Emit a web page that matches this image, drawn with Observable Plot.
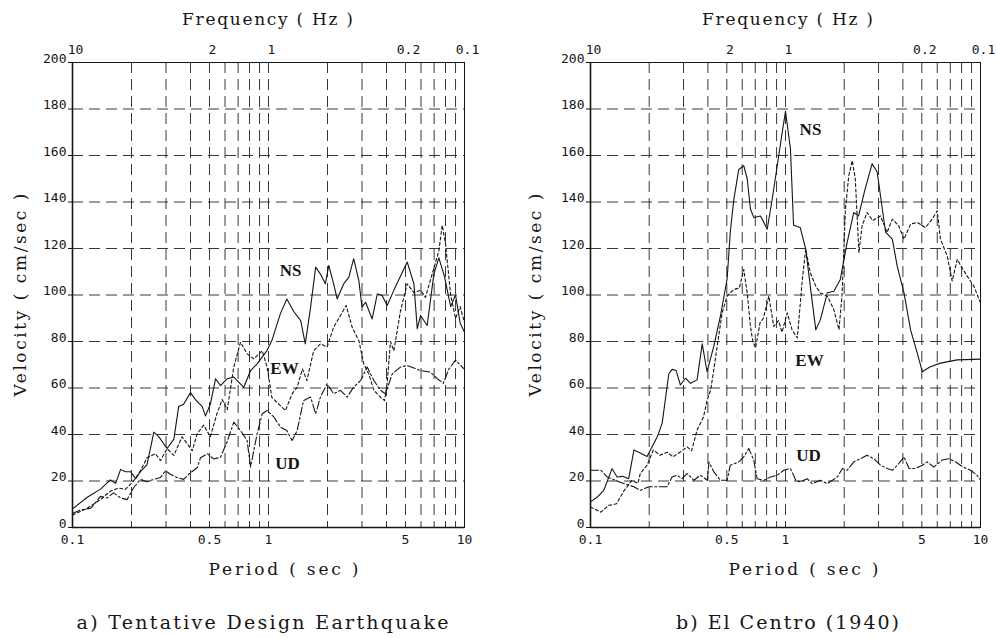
<!DOCTYPE html>
<html>
<head>
<meta charset="utf-8">
<script src="https://cdn.jsdelivr.net/npm/d3@7"></script>
<script src="https://cdn.jsdelivr.net/npm/@observablehq/plot@0.6"></script>
<style>
  body { margin: 0; background: #fff; }
  #wrap { display: flex; width: 996px; height: 638px; overflow: hidden; }
  #wrap > div { width: 498px; }
</style>
</head>
<body>
<div id="wrap"><div id="left"></div><div id="right"></div></div>
<script>
// ---- axis ticks and labels ----
const periodTicks = [0.1, 0.5, 1, 5, 10];
const periodTickLabels = ["0.1", "0.5", "1", "5", "10"];
const freqTickLabels = ["10", "2", "1", "0.2", "0.1"];
const velocityTicks = [0, 20, 40, 60, 80, 100, 120, 140, 160, 180, 200];
const gridPeriods = [0.2, 0.3, 0.4, 0.5, 0.6, 0.7, 0.8, 0.9, 1, 2, 3, 4, 5, 6, 7, 8, 9];
const gridVelocities = [20, 40, 60, 80, 100, 120, 140, 160, 180];
const seriesNames = ["NS", "EW", "UD"];

// ---- a) Tentative Design Earthquake : [period sec, velocity cm/sec] ----
const designNS = [[0.1,8],[0.119,13],[0.139,16.5],[0.156,20.5],[0.166,19],[0.176,25],[0.186,24],[0.198,24],[0.21,21],[0.222,24],[0.24,27],[0.26,41],[0.276,39],[0.292,36],[0.304,34],[0.329,38],[0.348,52],[0.369,53],[0.4,58],[0.424,55],[0.459,52],[0.477,48],[0.505,53],[0.537,64],[0.569,61],[0.616,64],[0.665,64.7],[0.748,60.3],[0.81,67.5],[0.875,70.4],[0.984,76.2],[1.04,80.4],[1.15,92],[1.24,98.3],[1.35,92.7],[1.46,89],[1.54,79],[1.64,94.8],[1.74,112],[1.84,109],[1.95,104.8],[2.03,112.7],[2.15,104.8],[2.24,98.3],[2.42,104.8],[2.57,107.7],[2.72,115.6],[2.89,106.2],[3.0,94.8],[3.13,96.9],[3.38,89.7],[3.59,100.5],[3.8,99.8],[4.03,95.5],[4.36,102],[5.1,114.2],[5.52,104.8],[5.74,85.5],[5.97,91.2],[6.45,86.9],[6.98,109.1],[7.4,116],[7.9,108],[8.5,95],[9.0,100],[9.5,88],[10,84]];
const designEW = [[0.1,5.4],[0.119,8.3],[0.139,12],[0.156,15.6],[0.172,17],[0.186,16.4],[0.205,20],[0.222,24.4],[0.24,30],[0.265,31.7],[0.281,28.8],[0.304,33.9],[0.329,31],[0.362,39],[0.385,36],[0.408,33],[0.433,40.4],[0.467,44],[0.505,39],[0.546,49],[0.58,55],[0.616,50.7],[0.665,69],[0.72,79.7],[0.778,74.7],[0.841,72.5],[0.929,76],[0.984,69],[1.04,56],[1.13,53],[1.22,50.3],[1.32,57.5],[1.4,60.3],[1.49,68.2],[1.57,63.2],[1.7,76],[1.84,79],[1.99,77.6],[2.15,86.2],[2.33,91.2],[2.49,95.5],[2.67,86.2],[2.89,80.4],[3.06,70.4],[3.25,66],[3.45,59],[3.73,56],[3.91,54.6],[4.03,62],[4.19,80],[4.36,76],[4.71,93],[5.1,104.8],[5.52,101],[5.97,102],[6.32,99],[6.84,109],[7.4,119],[7.7,130],[8.0,122],[8.5,100],[9.0,90],[9.5,95],[10,88]];
const designUD = [[0.1,6],[0.11,7.6],[0.124,8.3],[0.139,13.4],[0.15,12.7],[0.162,14.9],[0.176,12.7],[0.19,12],[0.205,17.1],[0.222,20.7],[0.24,19.7],[0.26,20.7],[0.281,21.5],[0.298,24.4],[0.316,22.9],[0.341,21.5],[0.369,20.7],[0.392,22.9],[0.433,25.8],[0.45,30],[0.487,31.7],[0.525,29.5],[0.569,30.2],[0.616,37],[0.665,45.3],[0.72,41.7],[0.778,37.4],[0.81,26],[0.875,40.3],[0.929,48.9],[0.984,50.3],[1.065,47.5],[1.15,43.2],[1.24,41.7],[1.32,37.4],[1.4,41.7],[1.51,54.6],[1.64,56.1],[1.74,48.9],[1.84,56.1],[1.99,61.8],[2.15,57.5],[2.33,59],[2.52,56.1],[2.72,60.4],[2.95,63.2],[3.19,69],[3.45,63.2],[3.73,59],[3.95,57.5],[4.28,66.1],[4.71,69],[5.1,69.7],[5.97,67.5],[6.7,66.8],[7.26,64],[7.8,62],[8.3,68],[9,72],[9.5,70],[10,68]];
const designLabelPeriods = [1.295, 1.207, 1.25];
const designLabelVelocities = [110.5, 68.4, 27.5];

// ---- b) El Centro (1940) ----
const centroNS = [[0.1,11],[0.108,13],[0.117,16],[0.129,25.3],[0.137,21.7],[0.146,22],[0.157,21],[0.167,33.3],[0.18,32],[0.195,30.5],[0.207,34.7],[0.22,39],[0.233,44.8],[0.242,55],[0.252,66],[0.262,68],[0.275,67.5],[0.289,61.3],[0.307,64.2],[0.326,62],[0.352,63.5],[0.374,79],[0.396,67],[0.429,78],[0.464,91],[0.502,107],[0.521,127],[0.543,141],[0.576,154],[0.611,155.6],[0.636,150],[0.661,137],[0.688,133.3],[0.745,134],[0.806,128.3],[0.855,141.3],[0.907,155.6],[0.962,170],[1.0,179],[1.06,163],[1.1,130],[1.19,129],[1.27,119.7],[1.34,103.8],[1.43,85],[1.51,89.4],[1.64,101],[1.77,101.6],[1.91,106.7],[2.07,122.5],[2.24,135.5],[2.37,134],[2.55,145],[2.78,156.4],[2.95,153],[3.07,142.7],[3.26,127],[3.53,124],[3.74,112.4],[4.05,101],[4.38,85],[4.74,75],[5.03,67],[5.5,69],[6.23,70.7],[7.6,72.1],[10,72.4]];
const centroEW = [[0.1,8.8],[0.113,6.6],[0.124,9.5],[0.136,10.2],[0.149,16],[0.163,20.3],[0.175,19],[0.18,23.2],[0.195,26.8],[0.21,33.3],[0.227,31.1],[0.247,32.4],[0.265,30.4],[0.289,32.5],[0.313,34.7],[0.33,33],[0.352,41.9],[0.38,47.6],[0.397,55],[0.413,59],[0.429,68],[0.45,80],[0.473,92.3],[0.502,99.5],[0.543,102.4],[0.58,103],[0.611,111],[0.636,101],[0.661,86.5],[0.68,80],[0.702,77.2],[0.74,88],[0.77,90],[0.821,99.5],[0.871,86.5],[0.92,89],[0.96,84],[1.02,92.3],[1.08,85.1],[1.15,81.5],[1.22,106.7],[1.27,119.7],[1.34,109.6],[1.43,103.8],[1.51,100.9],[1.64,99.5],[1.77,93.7],[1.88,85.1],[1.95,100],[2.03,137],[2.11,151.3],[2.2,157.8],[2.28,149.9],[2.38,118.2],[2.47,129.7],[2.62,135.5],[2.8,132],[3.07,134],[3.32,126.9],[3.53,132.6],[3.81,129.7],[4.05,124],[4.38,130.5],[4.74,131.2],[5.22,129],[5.65,132.6],[6.0,136.2],[6.23,124],[6.75,116.8],[7.16,106],[7.6,115.3],[8.0,112],[8.55,108.1],[9.25,103.8],[10,96.6]];
const centroUD = [[0.1,24.6],[0.113,24.6],[0.122,21.7],[0.134,20.3],[0.148,18.9],[0.167,17.5],[0.18,16],[0.199,17.5],[0.22,17.5],[0.247,17.5],[0.262,21.7],[0.278,22.5],[0.295,21],[0.313,23.2],[0.339,20.3],[0.366,22.5],[0.397,20.3],[0.405,28.2],[0.429,23.9],[0.464,20.3],[0.502,20.3],[0.521,26.8],[0.576,28.2],[0.611,30.4],[0.648,34],[0.688,28.9],[0.715,21],[0.775,20.3],[0.837,21.7],[0.907,22.5],[0.979,24.6],[1.06,25.4],[1.13,20.3],[1.19,19.6],[1.29,21],[1.37,18.9],[1.51,20.3],[1.64,18.9],[1.74,20.3],[1.84,21.7],[1.96,25.4],[2.07,24.6],[2.24,28.2],[2.42,29.6],[2.62,31.1],[2.84,29.6],[3.07,26.8],[3.32,25.4],[3.53,24.6],[3.81,27.5],[4.05,30.4],[4.3,25.4],[4.66,25.4],[5.03,26.8],[5.33,28.2],[5.76,26],[6.36,29],[6.88,29.6],[7.45,28.2],[8.16,26],[8.9,24.6],[9.6,22.5],[10,20.3]];
const centroLabelPeriods = [1.343, 1.327, 1.312];
const centroLabelVelocities = [171, 71.7, 31.1];

const INK = "#151515";
const SERIF = "DejaVu Serif, Liberation Serif, serif";

function makePanel(cfg) {
  const dash = {NS: null, EW: "3,2.5", UD: "8,2.5,2,2.5"};
  const lines = cfg.series.map((pairs, i) => {
    const name = seriesNames[i];
    const rows = pairs.map(([p, v]) => ({p, v}));
    return Plot.line(rows, {x: "p", y: "v", stroke: INK, strokeWidth: 1.1, strokeDasharray: dash[name]});
  });
  const labelRows = seriesNames.map((n, i) => ({n, p: cfg.labelPeriods[i], v: cfg.labelVelocities[i]}));
  const txt = (s, o) => Plot.text([s], {text: d => d, fill: INK, fontFamily: SERIF, textAnchor: "middle", lineAnchor: "middle", ...o});
  const svg = Plot.plot({
    width: 498, height: 638,
    marginLeft: cfg.marginLeft, marginRight: cfg.marginRight, marginTop: 62, marginBottom: 111,
    style: {fontFamily: "DejaVu Sans Mono, monospace", fontSize: "13px", color: INK, background: "#fff"},
    x: {type: "log", domain: [0.1, 10]},
    y: {domain: [0, 200]},
    marks: [
      Plot.gridX({ticks: gridPeriods, stroke: INK, strokeOpacity: 0.85, strokeWidth: 1, strokeDasharray: "11,6"}),
      Plot.gridY({ticks: gridVelocities, stroke: INK, strokeOpacity: 0.85, strokeWidth: 1, strokeDasharray: "11,6"}),
      Plot.frame({stroke: INK, strokeWidth: 1}),
      Plot.ruleX([0.1], {stroke: INK, strokeWidth: 1.6}),
      Plot.ruleY([0], {stroke: INK, strokeWidth: 1.6}),
      // tick marks and (slightly raised) tick labels of the velocity axis
      Plot.axisY({ticks: velocityTicks, tickSize: 4, tickFormat: () => "", label: null}),
      Plot.axisY({ticks: velocityTicks, tickSize: 0, tickPadding: 6, dy: -4, label: null, fontSize: 13}),
      Plot.axisX({anchor: "bottom", ticks: periodTicks, tickFormat: d => periodTickLabels[periodTicks.indexOf(d)], tickSize: 0, tickPadding: 7, label: null, fontSize: 13}),
      Plot.axisX({anchor: "top", ticks: periodTicks, tickFormat: d => freqTickLabels[periodTicks.indexOf(d)], tickSize: 0, tickPadding: 9, dx: 3, label: null, fontSize: 13}),
      ...lines,
      Plot.text(labelRows, {x: "p", y: "v", text: "n", fontFamily: "Liberation Serif, serif", fontWeight: "bold", fontSize: 17, fill: INK}),
      txt("Frequency ( Hz )", {frameAnchor: "top", dy: -43, dx: cfg.titleDx, fontSize: 17}),
      txt("Velocity ( cm/sec )", {frameAnchor: "left", dx: cfg.velDx, rotate: -90, fontSize: 17}),
      txt("Period ( sec )", {frameAnchor: "bottom", dy: 42, dx: cfg.periodDx, fontSize: 17}),
      txt(cfg.caption, {frameAnchor: "bottom", dy: 95, dx: cfg.captionDx, fontSize: 19})
    ]
  });
  // stretch the typewriter-style titles to the reference's text widths
  d3.select(svg).selectAll("text").each(function () {
    const len = cfg.textLengths[this.textContent.trim()];
    if (len) d3.select(this).attr("textLength", len).attr("lengthAdjust", "spacing");
  });
  return svg;
}

const designTextLengths = {"Frequency ( Hz )": 171, "Velocity ( cm/sec )": 203, "Period ( sec )": 150, "a) Tentative Design Earthquake": 372};
const centroTextLengths = {"Frequency ( Hz )": 171, "Velocity ( cm/sec )": 203, "Period ( sec )": 150, "b) El Centro (1940)": 223};

document.getElementById("left").append(makePanel({
  series: [designNS, designEW, designUD],
  labelPeriods: designLabelPeriods, labelVelocities: designLabelVelocities,
  marginLeft: 72, marginRight: 34,
  titleDx: -1, velDx: -52, periodDx: 15, captionDx: -6,
  caption: "a) Tentative Design Earthquake", textLengths: designTextLengths
}));
document.getElementById("right").append(makePanel({
  series: [centroNS, centroEW, centroUD],
  labelPeriods: centroLabelPeriods, labelVelocities: centroLabelVelocities,
  marginLeft: 92, marginRight: 16,
  titleDx: 2, velDx: -55, periodDx: 18, captionDx: 2,
  caption: "b) El Centro (1940)", textLengths: centroTextLengths
}));
</script>
</body>
</html>
